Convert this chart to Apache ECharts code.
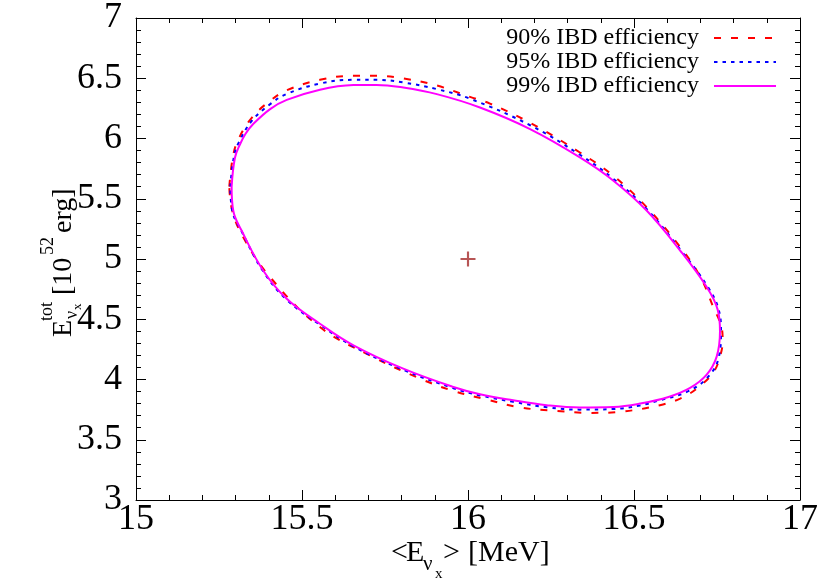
<!DOCTYPE html>
<html>
<head>
<meta charset="utf-8">
<script src="https://cdn.jsdelivr.net/npm/echarts@6/dist/echarts.min.js"></script>
<style>
  html, body { margin: 0; padding: 0; background: #fff; }
  #main { width: 830px; height: 581px; }
</style>
</head>
<body>
<div id="main"></div>
<script>
// contour data: [<E> MeV, Etot 1e52 erg]
var eff90 = [
  [15.281, 5.60], [15.292, 5.85], [15.308, 5.99], [15.348, 6.17], [15.404, 6.313],
  [15.454, 6.40], [15.554, 6.487], [15.655, 6.52], [15.725, 6.52], [15.805, 6.498],
  [15.906, 6.44], [16.006, 6.345], [16.066, 6.29], [16.187, 6.13], [16.337, 5.884],
  [16.438, 5.69], [16.538, 5.43], [16.639, 5.10], [16.70, 4.85], [16.739, 4.60],
  [16.762, 4.45], [16.767, 4.325], [16.760, 4.20], [16.739, 4.06], [16.689, 3.925],
  [16.639, 3.842], [16.578, 3.787], [16.468, 3.735], [16.367, 3.723], [16.267, 3.740],
  [16.157, 3.768], [16.056, 3.834], [15.956, 3.905], [15.855, 4.008], [15.705, 4.20],
  [15.554, 4.435], [15.404, 4.849], [15.323, 5.18], [15.290, 5.40], [15.281, 5.60]
];
var eff95 = [
  [15.284, 5.60], [15.295, 5.85], [15.310, 5.97], [15.350, 6.15], [15.404, 6.285],
  [15.454, 6.37], [15.554, 6.456], [15.655, 6.487], [15.725, 6.487], [15.805, 6.465],
  [15.906, 6.41], [16.006, 6.33], [16.187, 6.11], [16.337, 5.865], [16.438, 5.665],
  [16.538, 5.415], [16.639, 5.08], [16.722, 4.77], [16.755, 4.58], [16.762, 4.40],
  [16.755, 4.18], [16.719, 4.01], [16.659, 3.897], [16.578, 3.828], [16.518, 3.785],
  [16.438, 3.755], [16.337, 3.750], [16.237, 3.770], [16.136, 3.815], [16.036, 3.868],
  [15.956, 3.928], [15.805, 4.080], [15.655, 4.275], [15.554, 4.455], [15.454, 4.662],
  [15.383, 4.898], [15.318, 5.23], [15.290, 5.40], [15.284, 5.60]
];
var eff99 = [
  [15.288, 5.60], [15.298, 5.84], [15.313, 5.95], [15.330, 6.04], [15.353, 6.12],
  [15.404, 6.244], [15.454, 6.320], [15.554, 6.405], [15.655, 6.443], [15.725, 6.445],
  [15.805, 6.423], [15.906, 6.368], [16.036, 6.257], [16.187, 6.078], [16.337, 5.843],
  [16.438, 5.650], [16.538, 5.402], [16.639, 5.070], [16.719, 4.767], [16.752, 4.58],
  [16.759, 4.40], [16.749, 4.19], [16.719, 4.04], [16.669, 3.93], [16.604, 3.855],
  [16.518, 3.800], [16.438, 3.772], [16.337, 3.768], [16.237, 3.787], [16.136, 3.828],
  [16.036, 3.878], [15.956, 3.938], [15.805, 4.090], [15.655, 4.284], [15.554, 4.463],
  [15.454, 4.670], [15.383, 4.905], [15.318, 5.236], [15.293, 5.40], [15.288, 5.60]
];
var bestFit = [[16, 5]];
var seriesNames = ['90% IBD efficiency', '95% IBD efficiency', '99% IBD efficiency'];

var serif = 'Liberation Serif';
var chart = echarts.init(document.getElementById('main'));

function frameAxis(pos, isX, show) {
  return {
    type: 'value', position: pos,
    min: isX ? 15 : 3, max: isX ? 17 : 7, interval: 0.5,
    axisLine: { show: true, onZero: false, lineStyle: { color: '#000', width: 1 } },
    axisTick: { show: true, inside: true, length: 10, lineStyle: { color: '#000' } },
    minorTick: { show: true, splitNumber: 5, length: 5, lineStyle: { color: '#000' } },
    splitLine: { show: false },
    axisLabel: {
      show: show, color: '#000', fontFamily: serif, fontSize: 36,
      margin: isX ? 2 : 14
    }
  };
}

function lineSeries(name, data, color, type, width) {
  return {
    name: name, type: 'line', data: data, xAxisIndex: 0, yAxisIndex: 0,
    smooth: 0.4, symbol: 'none', showSymbol: false,
    lineStyle: { color: color, width: width, type: type },
    itemStyle: { color: color },
    animation: false
  };
}

// text piece placed by its alphabetic baseline
function txt(str, x, base, size) {
  return {
    type: 'text', x: x, y: base - 0.34 * size,
    style: { text: str, font: size + 'px ' + serif, fill: '#000', verticalAlign: 'middle', align: 'left' }
  };
}

chart.setOption({
  animation: false,
  grid: { left: 136, right: 30, top: 17, bottom: 81 },
  xAxis: [frameAxis('bottom', true, true), frameAxis('top', true, false)],
  yAxis: [frameAxis('left', false, true), frameAxis('right', false, false)],
  legend: {
    orient: 'vertical', align: 'right', right: 48, top: 21,
    itemWidth: 62, itemHeight: 14, itemGap: 0,
    itemStyle: { opacity: 0 },
    textStyle: { fontFamily: serif, fontSize: 24, color: '#000', lineHeight: 23, padding: [0, 10, 0, 0] },
    data: seriesNames
  },
  series: [
    lineSeries(seriesNames[0], eff90, '#ff0000', [7, 10], 2),
    lineSeries(seriesNames[1], eff95, '#0000ff', [3.5, 5], 2),
    lineSeries(seriesNames[2], eff99, '#ff00ff', 'solid', 2),
    {
      type: 'scatter', data: bestFit, symbol: 'path://M6,0h2v14h-2z M0,6h14v2h-14z',
      symbolSize: 15, itemStyle: { color: '#a52a2a' }, silent: true
    }
  ],
  graphic: [
    {
      type: 'group', x: 73, y: 337, rotation: Math.PI / 2,
      children: [
        txt('E', 0, 0, 28),
        txt('tot', 16, -20, 18),
        txt('ν', 18, 5, 18),
        txt('x', 27, 9, 13),
        txt('[10', 42, 0, 28),
        txt('52', 82, -19, 18),
        txt('erg]', 104, 0, 28)
      ]
    },
    {
      type: 'group', x: 0, y: 0,
      children: [
        txt('<', 391, 563, 30),
        txt('E', 406, 563, 30),
        txt('ν', 423, 572, 21),
        txt('x', 435, 579, 15),
        txt('>', 443, 563, 30),
        txt('[MeV]', 468, 563, 30)
      ]
    }
  ]
});
</script>
</body>
</html>
